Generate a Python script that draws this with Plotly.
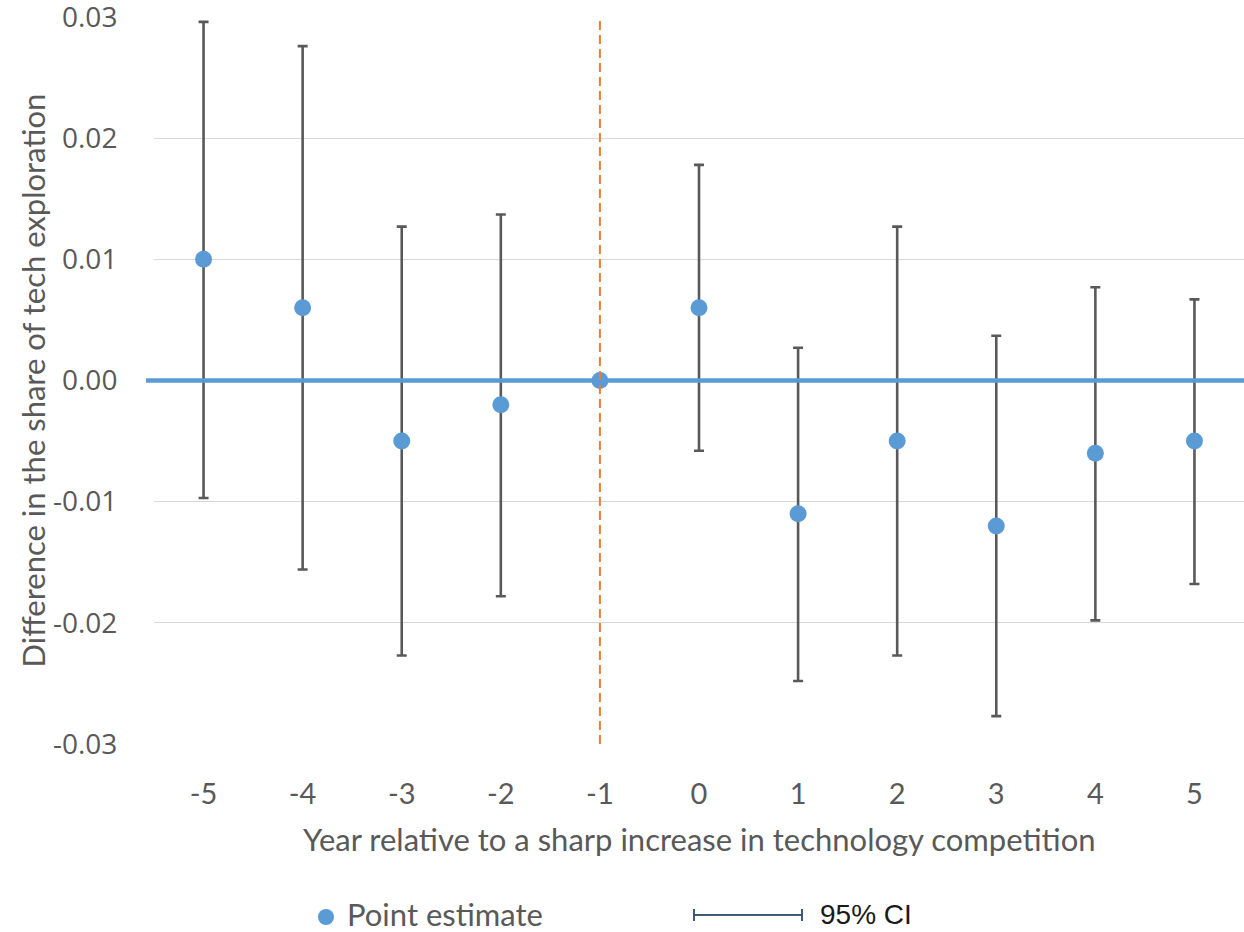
import plotly.graph_objects as go

# Event-study estimates, years relative to the competition shock
years = [-5, -4, -3, -2, -1, 0, 1, 2, 3, 4, 5]
estimate = [0.0100, 0.0060, -0.0050, -0.0020, 0.0000, 0.0060, -0.0110, -0.0050, -0.0120, -0.0060, -0.0050]
ci_upper = [0.0296, 0.0276, 0.0127, 0.0137, 0.0000, 0.0178, 0.0027, 0.0127, 0.0037, 0.0077, 0.0067]
ci_lower = [-0.0097, -0.0156, -0.0227, -0.0178, 0.0000, -0.0058, -0.0248, -0.0227, -0.0277, -0.0198, -0.0168]

y_ticks = [0.03, 0.02, 0.01, 0.00, -0.01, -0.02, -0.03]
y_tick_text = ["0.03", "0.02", "0.01", "0.00", "-0.01", "-0.02", "-0.03"]
x_tick_text = ["-5", "-4", "-3", "-2", "-1", "0", "1", "2", "3", "4", "5"]

BLUE = "#5B9BD5"
ORANGE = "#ED7D31"
BAR = "#595959"
TEXT = "#595959"
GRID = "#D9D9D9"

err_plus = [u - e for u, e in zip(ci_upper, estimate)]
err_minus = [e - l for e, l in zip(estimate, ci_lower)]
has_ci = [y != -1 for y in years]
err_plus = [p if h else 0 for p, h in zip(err_plus, has_ci)]
err_minus = [m if h else 0 for m, h in zip(err_minus, has_ci)]

fig = go.Figure()

# 95% confidence intervals
fig.add_trace(go.Scatter(
    x=years, y=estimate, mode="markers",
    marker=dict(size=1, color="rgba(0,0,0,0)"),
    error_y=dict(type="data", symmetric=False, array=err_plus, arrayminus=err_minus,
                 color=BAR, thickness=2.6, width=5, visible=True),
    showlegend=False, hoverinfo="skip",
))

# Point estimates
fig.add_trace(go.Scatter(
    x=years, y=estimate, mode="markers",
    marker=dict(size=17, color=BLUE),
    showlegend=False,
))

W, H = 1244, 932
L, R, T, B = 154, 0, 17, 188
pw, ph = W - L - R, H - T - B


def px_x(p):
    return (p - L) / pw


def px_y(p):
    return (H - B - p) / ph


shapes = [
    # zero reference line
    dict(type="line", xref="paper", yref="y", x0=px_x(146), x1=1, y0=0, y1=0,
         line=dict(color=BLUE, width=4.5), layer="above"),
    # event year marker
    dict(type="line", xref="x", yref="paper", x0=-1, x1=-1, y0=0, y1=1,
         line=dict(color=ORANGE, width=2, dash="9px,5px"), layer="above"),
    # legend: CI symbol
    dict(type="line", xref="paper", yref="paper", x0=px_x(693), x1=px_x(803),
         y0=px_y(915), y1=px_y(915), line=dict(color="#3E5A78", width=2)),
    dict(type="line", xref="paper", yref="paper", x0=px_x(694), x1=px_x(694),
         y0=px_y(909), y1=px_y(921), line=dict(color="#3E5A78", width=2)),
    dict(type="line", xref="paper", yref="paper", x0=px_x(802), x1=px_x(802),
         y0=px_y(909), y1=px_y(921), line=dict(color="#3E5A78", width=2)),
    # legend: point marker
    dict(type="circle", xref="paper", yref="paper", xsizemode="pixel", ysizemode="pixel",
         xanchor=px_x(326), yanchor=px_y(917), x0=-8, x1=8, y0=-8, y1=8,
         fillcolor=BLUE, line=dict(width=0)),
]

annotations = [
    dict(text="Year relative to a sharp increase in technology competition",
         xref="paper", yref="paper", x=0.5, y=px_y(839), xanchor="center", yanchor="middle",
         showarrow=False, font=dict(family="Lato", size=31, color=TEXT)),
    dict(text="Difference in the share of tech exploration", textangle=-90,
         xref="paper", yref="paper", x=px_x(32), y=0.5, xanchor="center", yanchor="middle",
         showarrow=False, font=dict(family="Lato", size=31, color=TEXT)),
    dict(text="Point estimate", xref="paper", yref="paper", x=px_x(345), y=px_y(914),
         xanchor="left", yanchor="middle", height=34, valign="middle", showarrow=False,
         font=dict(family="Lato", size=31, color=TEXT)),
    dict(text="95% CI", xref="paper", yref="paper", x=px_x(818), y=px_y(914),
         xanchor="left", yanchor="middle", height=32, valign="middle", showarrow=False,
         font=dict(family="Liberation Sans, Arial", size=28, color="#1a1a1a")),
]

fig.update_layout(
    width=W, height=H,
    margin=dict(l=L, r=R, t=T, b=B, autoexpand=False),
    paper_bgcolor="white", plot_bgcolor="white",
    shapes=shapes, annotations=annotations,
    showlegend=False,
    xaxis=dict(range=[-5.5, 5.5], tickvals=years, ticktext=x_tick_text,
               showgrid=False, zeroline=False, showline=False, automargin=False,
               ticks="outside", ticklen=24, tickcolor="rgba(0,0,0,0)",
               tickfont=dict(family="Lato", size=29, color=TEXT)),
    yaxis=dict(range=[-0.03, 0.030001], tickvals=y_ticks, ticktext=y_tick_text,
               showgrid=True, gridcolor=GRID, gridwidth=1, zeroline=False, showline=False,
               automargin=False, ticks="outside", ticklen=30, tickcolor="rgba(0,0,0,0)",
               ticklabeloverflow="allow",
               tickfont=dict(family="Open Sans", size=28, color=TEXT)),
)

fig.write_html("out.html")
